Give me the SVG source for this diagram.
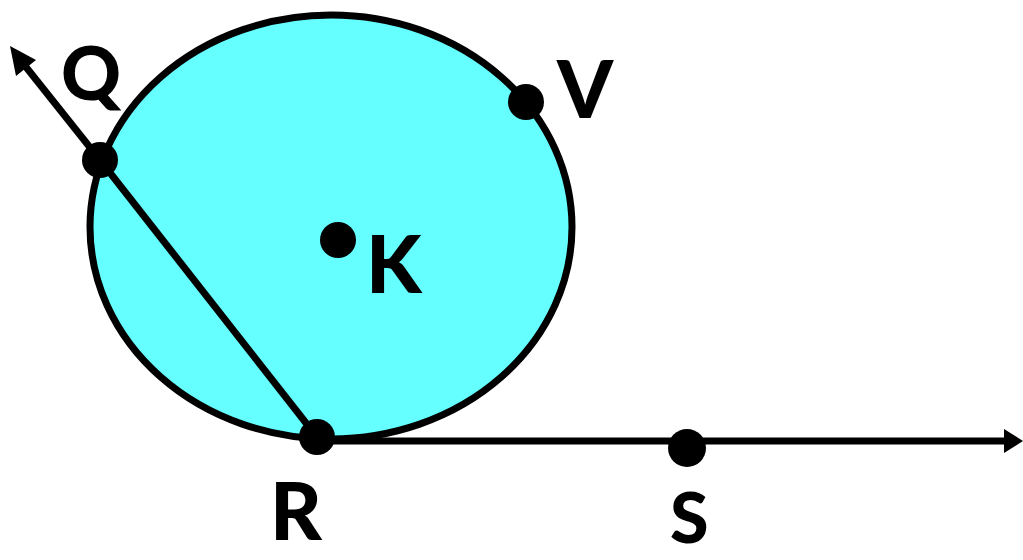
<svg xmlns="http://www.w3.org/2000/svg" width="1023" height="560" viewBox="0 0 1023 560">
<defs>
<style>
.dot{fill:#000}
.lbl{font-family:Lato,"Open Sans","Liberation Sans",sans-serif;font-weight:900;font-size:80px;fill:#000}
.ln{stroke:#000;stroke-width:7;fill:none}
</style>
</defs>
<g id="circle">
<ellipse cx="331" cy="227" rx="241" ry="212" fill="#66ffff" stroke="#000" stroke-width="7"/>
</g>
<g id="connectors">
<line class="ln" x1="317" y1="437" x2="100" y2="160"/>
<line class="ln" x1="100" y1="160" x2="22" y2="62"/>
<path d="M10,46 L36,60 L16,76 z" fill="#000"/>
<line class="ln" x1="317" y1="441" x2="1008" y2="441"/>
<path d="M1023,441 L1004,429 L1004,453 z" fill="#000"/>
</g>
<g id="Q"><circle class="dot" cx="100" cy="160" r="18"/><text class="lbl" x="61" y="100" style="font-size:74px">Q</text></g>
<g id="V"><circle class="dot" cx="526" cy="102" r="18"/><text class="lbl" x="557" y="118">V</text></g>
<g id="K"><circle class="dot" cx="338" cy="240" r="18"/><text class="lbl" x="366" y="293">K</text></g>
<g id="R"><circle class="dot" cx="317" cy="437" r="18"/><text class="lbl" x="270" y="540">R</text></g>
<g id="S"><circle class="dot" cx="687" cy="448" r="19"/><text class="lbl" x="670" y="543" style="font-size:70px">S</text></g>
</svg>
